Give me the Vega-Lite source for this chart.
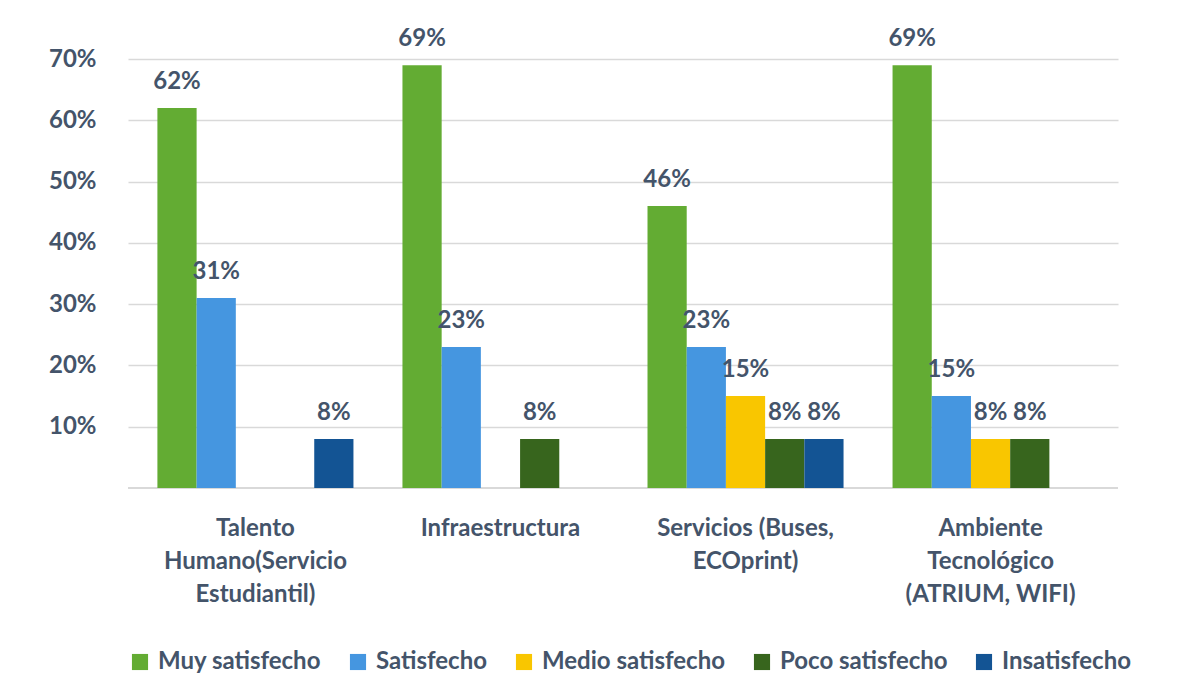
{
  "$schema": "https://vega.github.io/schema/vega-lite/v6.json",
  "autosize": {"type": "none"},
  "width": 990,
  "height": 429,
  "padding": {"left": 128, "top": 59, "right": 72, "bottom": 212},
  "background": "white",
  "config": {
    "font": "Lato",
    "view": {"stroke": null},
    "axis": {"labelFont": "Lato", "labelFontWeight": "bold", "labelColor": "#44546A", "labelFontSize": 24, "labelLimit": 0},
    "legend": {"labelFont": "Lato", "labelFontWeight": "bold", "labelColor": "#44546A", "labelFontSize": 24, "labelLimit": 0}
  },
  "data": {
    "values": [
      {"categoria": "Talento Humano(Servicio Estudiantil)", "nivel": "Muy satisfecho", "valor": 0.62},
      {"categoria": "Talento Humano(Servicio Estudiantil)", "nivel": "Satisfecho", "valor": 0.31},
      {"categoria": "Talento Humano(Servicio Estudiantil)", "nivel": "Medio satisfecho", "valor": 0},
      {"categoria": "Talento Humano(Servicio Estudiantil)", "nivel": "Poco satisfecho", "valor": 0},
      {"categoria": "Talento Humano(Servicio Estudiantil)", "nivel": "Insatisfecho", "valor": 0.08},
      {"categoria": "Infraestructura", "nivel": "Muy satisfecho", "valor": 0.69},
      {"categoria": "Infraestructura", "nivel": "Satisfecho", "valor": 0.23},
      {"categoria": "Infraestructura", "nivel": "Medio satisfecho", "valor": 0},
      {"categoria": "Infraestructura", "nivel": "Poco satisfecho", "valor": 0.08},
      {"categoria": "Infraestructura", "nivel": "Insatisfecho", "valor": 0},
      {"categoria": "Servicios (Buses, ECOprint)", "nivel": "Muy satisfecho", "valor": 0.46},
      {"categoria": "Servicios (Buses, ECOprint)", "nivel": "Satisfecho", "valor": 0.23},
      {"categoria": "Servicios (Buses, ECOprint)", "nivel": "Medio satisfecho", "valor": 0.15},
      {"categoria": "Servicios (Buses, ECOprint)", "nivel": "Poco satisfecho", "valor": 0.08},
      {"categoria": "Servicios (Buses, ECOprint)", "nivel": "Insatisfecho", "valor": 0.08},
      {"categoria": "Ambiente Tecnológico (ATRIUM, WIFI)", "nivel": "Muy satisfecho", "valor": 0.69},
      {"categoria": "Ambiente Tecnológico (ATRIUM, WIFI)", "nivel": "Satisfecho", "valor": 0.15},
      {"categoria": "Ambiente Tecnológico (ATRIUM, WIFI)", "nivel": "Medio satisfecho", "valor": 0.08},
      {"categoria": "Ambiente Tecnológico (ATRIUM, WIFI)", "nivel": "Poco satisfecho", "valor": 0.08},
      {"categoria": "Ambiente Tecnológico (ATRIUM, WIFI)", "nivel": "Insatisfecho", "valor": 0}
    ]
  },
  "encoding": {
    "x": {
      "field": "categoria", "type": "nominal", "sort": null, "title": null,
      "scale": {"paddingInner": 0.2, "paddingOuter": 0.12},
      "axis": {
        "domain": false, "ticks": false, "labelAngle": 0, "labelPadding": 28,
        "labelLineHeight": 33, "labelBaseline": "top",
        "labelExpr": "datum.value == 'Talento Humano(Servicio Estudiantil)' ? ['Talento', 'Humano(Servicio', 'Estudiantil)'] : datum.value == 'Servicios (Buses, ECOprint)' ? ['Servicios (Buses,', 'ECOprint)'] : datum.value == 'Ambiente Tecnológico (ATRIUM, WIFI)' ? ['Ambiente', 'Tecnológico', '(ATRIUM, WIFI)'] : datum.value"
      }
    },
    "xOffset": {"field": "nivel", "type": "nominal", "sort": ["Muy satisfecho", "Satisfecho", "Medio satisfecho", "Poco satisfecho", "Insatisfecho"]},
    "y": {
      "field": "valor", "type": "quantitative", "title": null,
      "scale": {"domain": [0, 0.7], "nice": false},
      "axis": {
        "format": ".0%", "values": [0.1, 0.2, 0.3, 0.4, 0.5, 0.6, 0.7],
        "domain": false, "ticks": false, "labelPadding": 32,
        "grid": true, "gridColor": "#D9D9D9", "gridWidth": 1.5
      }
    }
  },
  "layer": [
    {
      "mark": {"type": "rule", "color": "#D9D9D9", "strokeWidth": 1.5},
      "encoding": {"y": {"datum": 0}, "x": null, "xOffset": null}
    },
    {
      "mark": {"type": "bar"},
      "encoding": {
        "color": {
          "field": "nivel", "type": "nominal", "title": null,
          "sort": ["Muy satisfecho", "Satisfecho", "Medio satisfecho", "Poco satisfecho", "Insatisfecho"],
          "scale": {
            "domain": ["Muy satisfecho", "Satisfecho", "Medio satisfecho", "Poco satisfecho", "Insatisfecho"],
            "range": ["#63AC33", "#4596E0", "#F9C600", "#37651D", "#135494"]
          },
          "legend": {
            "orient": "bottom", "direction": "horizontal", "columns": 5,
            "symbolType": "square", "symbolSize": 260, "symbolStrokeWidth": 0,
            "columnPadding": 24, "labelOffset": 6, "offset": 44
          }
        }
      }
    },
    {
      "transform": [{"filter": "datum.valor > 0"}],
      "mark": {"type": "text", "baseline": "bottom", "dy": -14, "fontSize": 24, "fontWeight": "bold", "color": "#44546A", "font": "Lato"},
      "encoding": {
        "text": {"field": "valor", "type": "quantitative", "format": ".0%"}
      }
    }
  ]
}
